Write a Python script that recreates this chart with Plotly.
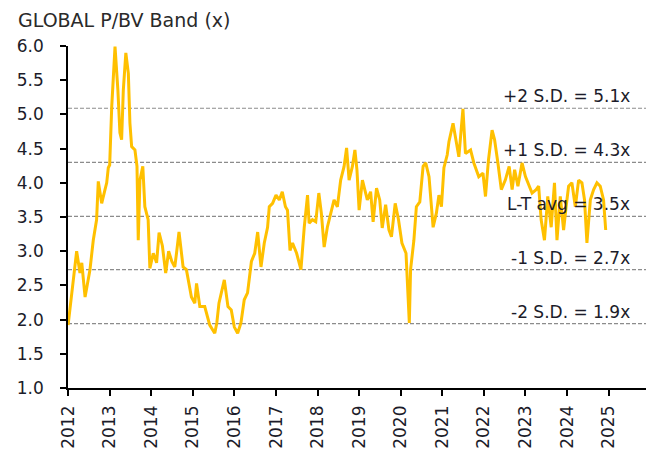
import plotly.graph_objects as go

dates = [
    "2012-01-02", "2012-03-17", "2012-04-15", "2012-05-01", "2012-05-30", "2012-06-28",
    "2012-07-12", "2012-08-10", "2012-09-08", "2012-09-23", "2012-10-23", "2012-11-21",
    "2012-12-06", "2012-12-20", "2013-01-01", "2013-01-19", "2013-02-17", "2013-03-14",
    "2013-04-01", "2013-04-16", "2013-05-01", "2013-05-23", "2013-06-14", "2013-06-28",
    "2013-07-13", "2013-08-11", "2013-08-29", "2013-09-09", "2013-09-24", "2013-10-19",
    "2013-11-06", "2013-12-05", "2013-12-20", "2014-01-19", "2014-02-17", "2014-03-11",
    "2014-04-09", "2014-05-08", "2014-06-03", "2014-07-01", "2014-07-27", "2014-08-11",
    "2014-09-02", "2014-10-08", "2014-11-06", "2014-12-20", "2015-01-19", "2015-02-03",
    "2015-03-04", "2015-04-16", "2015-05-30", "2015-07-13", "2015-07-31", "2015-08-19",
    "2015-10-05", "2015-11-06", "2015-12-05", "2016-01-01", "2016-01-30", "2016-02-28",
    "2016-03-28", "2016-04-26", "2016-05-30", "2016-06-28", "2016-07-24", "2016-08-22",
    "2016-09-20", "2016-10-19", "2016-11-03", "2016-12-02", "2017-01-01", "2017-01-30",
    "2017-02-25", "2017-03-25", "2017-04-12", "2017-05-04", "2017-05-26", "2017-07-01",
    "2017-08-08", "2017-09-06", "2017-10-05", "2017-10-19", "2017-11-17", "2017-12-16",
    "2018-01-12", "2018-02-03", "2018-02-28", "2018-03-28", "2018-04-26", "2018-05-26",
    "2018-06-24", "2018-07-23", "2018-08-22", "2018-09-13", "2018-10-05", "2018-11-03",
    "2018-11-25", "2018-12-13", "2019-01-01", "2019-01-30", "2019-03-14", "2019-04-12",
    "2019-05-04", "2019-06-03", "2019-07-01", "2019-07-23", "2019-08-22", "2019-09-20",
    "2019-10-12", "2019-11-14", "2019-12-13", "2020-01-12", "2020-02-17", "2020-03-03",
    "2020-03-17", "2020-03-28", "2020-04-26", "2020-05-18", "2020-06-17", "2020-07-16",
    "2020-08-08", "2020-09-06", "2020-10-12", "2020-11-10", "2020-12-02", "2020-12-24",
    "2021-01-15", "2021-02-13", "2021-02-28", "2021-04-05", "2021-04-27", "2021-05-26",
    "2021-07-01", "2021-07-23", "2021-09-06", "2021-10-05", "2021-11-17", "2021-12-24",
    "2022-01-15", "2022-02-10", "2022-03-14", "2022-04-05", "2022-05-04", "2022-06-03",
    "2022-07-08", "2022-08-11", "2022-09-06", "2022-09-28", "2022-10-27", "2022-12-02",
    "2023-01-01", "2023-02-06", "2023-02-28", "2023-04-05", "2023-04-27", "2023-05-19",
    "2023-06-17", "2023-07-16", "2023-08-15", "2023-09-13", "2023-10-05", "2023-11-03",
    "2023-12-02", "2023-12-24", "2024-01-15", "2024-02-13", "2024-03-14", "2024-04-12",
    "2024-05-11", "2024-06-03", "2024-06-24", "2024-07-24", "2024-08-22", "2024-09-20",
    "2024-10-19", "2024-11-17", "2024-12-06",
]
pbv = [
    1.92, 3.00, 2.68, 2.83, 2.33, 2.58,
    2.73, 3.16, 3.46, 4.02, 3.70, 3.90,
    4.00, 4.22, 4.26, 5.11, 5.99, 5.36,
    4.73, 4.63, 5.36, 5.90, 5.60, 4.87,
    4.53, 4.48, 4.24, 3.16, 4.04, 4.24,
    3.65, 3.46, 2.75, 2.97, 2.83, 3.27,
    3.08, 2.68, 3.00, 2.85, 2.77, 2.97,
    3.28, 2.77, 2.73, 2.33, 2.24, 2.53,
    2.19, 2.19, 1.92, 1.80, 1.95, 2.24,
    2.58, 2.19, 2.14, 1.89, 1.80, 1.95,
    2.29, 2.39, 2.85, 2.97, 3.28, 2.77,
    3.12, 3.35, 3.65, 3.70, 3.82, 3.75,
    3.87, 3.65, 3.60, 3.01, 3.12, 2.97,
    2.73, 3.35, 3.82, 3.41, 3.46, 3.43,
    3.85, 3.56, 3.06, 3.35, 3.56, 3.75,
    3.65, 4.04, 4.24, 4.51, 4.04, 4.24,
    4.48, 4.19, 3.60, 4.04, 3.75, 3.87,
    3.43, 3.92, 3.75, 3.34, 3.68, 3.31,
    3.21, 3.70, 3.46, 3.12, 2.97, 2.43,
    1.95, 2.73, 3.16, 3.65, 3.72, 4.24,
    4.29, 4.09, 3.35, 3.56, 3.82, 3.65,
    4.22, 4.41, 4.60, 4.87, 4.63, 4.38,
    5.08, 4.43, 4.48, 4.29, 4.09, 4.14,
    3.80, 4.33, 4.77, 4.63, 4.29, 3.90,
    4.04, 4.24, 3.90, 4.19, 3.95, 4.29,
    4.09, 3.95, 3.85, 3.90, 3.95, 3.46,
    3.16, 3.80, 3.35, 4.00, 3.16, 3.80,
    3.31, 3.65, 3.95, 4.00, 3.65, 4.04,
    4.00, 3.75, 3.12, 3.75, 3.90, 4.00,
    3.95, 3.75, 3.31,
]

band_levels = [5.09, 4.30, 3.51, 2.73, 1.94]
band_labels = ["+2 S.D. = 5.1x", "+1 S.D. = 4.3x", "L-T avg = 3.5x",
               "-1 S.D. = 2.7x", "-2 S.D. = 1.9x"]

x_range = ["2012-01-01", "2025-12-30"]
x_ticks = ["2012-01-01", "2013-01-01", "2014-01-01", "2015-01-01", "2016-01-01",
           "2017-01-01", "2018-01-01", "2019-01-01", "2020-01-01", "2021-01-01",
           "2022-01-01", "2023-01-01", "2024-01-01", "2025-01-01"]
x_tick_labels = ["2012", "2013", "2014", "2015", "2016", "2017", "2018",
                 "2019", "2020", "2021", "2022", "2023", "2024", "2025"]
y_ticks = [1.0, 1.5, 2.0, 2.5, 3.0, 3.5, 4.0, 4.5, 5.0, 5.5, 6.0]

FONT = "DejaVu Sans"
TXT = "#1c1c2a"

fig = go.Figure()

for lvl in band_levels:
    fig.add_trace(go.Scatter(
        x=x_range, y=[lvl, lvl], mode="lines",
        line=dict(color="#8c8c8c", width=1.2, dash="4px,2px"),
        hoverinfo="skip", showlegend=False,
    ))

fig.add_trace(go.Scatter(
    x=dates, y=pbv, mode="lines",
    line=dict(color="#FFC000", width=3),
    showlegend=False,
))

for lvl, lab in zip(band_levels, band_labels):
    fig.add_annotation(
        x=0.969, xref="paper", y=lvl, yref="y",
        text=lab, showarrow=False, xanchor="right", yanchor="bottom",
        font=dict(family=FONT, size=17, color=TXT),
    )

# page body adds an 8px offset; margins compensate so the plot lands where the reference has it
fig.update_layout(
    width=654, height=454,
    margin=dict(l=60, r=12, t=38, b=74, autoexpand=False),
    paper_bgcolor="white", plot_bgcolor="white",
    font=dict(family=FONT, size=17, color=TXT),
    title=dict(text="GLOBAL P/BV Band (x)", xref="container", yref="container",
               x=10 / 654, y=1 - 6 / 454, xanchor="left", yanchor="top",
               pad=dict(t=0, b=0, l=0, r=0),
               font=dict(family=FONT, size=19, color="#2a2a2a")),
    xaxis=dict(
        range=x_range, type="date", tickvals=x_ticks, ticktext=x_tick_labels,
        tickangle=-90, showgrid=False, zeroline=False, automargin=False,
        showline=True, linecolor="black", linewidth=1.5,
        ticks="outside", ticklen=6, tickwidth=1.5, tickcolor="black",
        ticklabelstandoff=3,
        tickfont=dict(family=FONT, size=17, color=TXT),
    ),
    yaxis=dict(
        range=[1, 6], tickvals=y_ticks, tickformat=".1f",
        showgrid=False, zeroline=False, automargin=False,
        showline=True, linecolor="black", linewidth=1.5,
        ticks="outside", ticklen=6, tickwidth=1.5, tickcolor="black",
        ticklabelstandoff=13,
        tickfont=dict(family=FONT, size=17, color=TXT),
    ),
)

fig.write_html("out.html")
